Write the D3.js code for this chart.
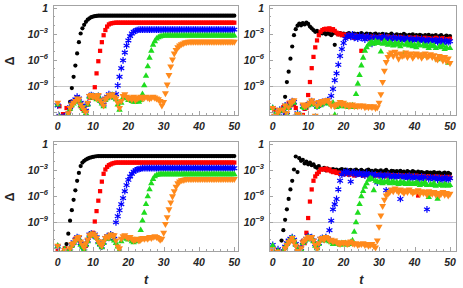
<!DOCTYPE html>
<html>
<head>
<meta charset="utf-8">
<script src="https://cdn.jsdelivr.net/npm/d3@7"></script>
<style>
  body { margin: 0; background: #fff; }
  text { font-family: "Liberation Sans", Arial, sans-serif; font-weight: bold; font-style: italic; fill: #262626; }
</style>
</head>
<body>
<svg id="chart" width="463" height="288"></svg>
<script>
// sample times
var tGrid = [0,0.5,1,1.5,2,2.5,3,3.5,4,4.5,5,5.5,6,6.5,7,7.5,8,8.5,9,9.5,
  10,10.5,11,11.5,12,12.5,13,13.5,14,14.5,15,15.5,16,16.5,17,17.5,18,18.5,19,19.5,
  20,20.5,21,21.5,22,22.5,23,23.5,24,24.5,25,25.5,26,26.5,27,27.5,28,28.5,29,29.5,
  30,30.5,31,31.5,32,32.5,33,33.5,34,34.5,35,35.5,36,36.5,37,37.5,38,38.5,39,39.5,
  40,40.5,41,41.5,42,42.5,43,43.5,44,44.5,45,45.5,46,46.5,47,47.5,48,48.5,49,49.5,50];

// log10(Delta) values, one array per panel & series
// ---- top left
var tlBlack = [-12.8,-13,-12.6,-13,-12.9,-12.7,-12.2,-10.9,-9.3,-8.0,
  -6.7,-5.3,-4.0,-3.0,-2.4,-2.0,-1.65,-1.4,-1.25,-1.12,
  -1.05,-1.0,-0.97,-0.95,-0.95,-0.95,-0.95,-0.95,-0.95,-0.95,
  -0.95,-0.95,-0.95,-0.95,-0.95,-0.95,-0.95,-0.95,-0.95,-0.95,
  -0.95,-0.95,-0.95,-0.95,-0.95,-0.95,-0.95,-0.95,-0.95,-0.95,
  -0.95,-0.95,-0.95,-0.95,-0.95,-0.95,-0.95,-0.95,-0.95,-0.95,
  -0.95,-0.95,-0.95,-0.95,-0.95,-0.95,-0.95,-0.95,-0.95,-0.95,
  -0.95,-0.95,-0.95,-0.95,-0.95,-0.95,-0.95,-0.95,-0.95,-0.95,
  -0.95,-0.95,-0.95,-0.95,-0.95,-0.95,-0.95,-0.95,-0.95,-0.95,
  -0.95,-0.95,-0.95,-0.95,-0.95,-0.95,-0.95,-0.95,-0.95,-0.95,-0.95];
var tlRed = [-12.9,-11.4,-13,-12.3,-12.8,-11.6,-12.4,-11.7,-11.3,-10.9,
  -10.7,-10.4,-10.8,-11.4,-11.7,-11.9,-12.1,-11.2,-10.4,-10.3,
  -10.4,-9.2,-7.6,-6.2,-5.0,-4.0,-3.2,-2.6,-2.2,-1.95,
  -1.85,-1.8,-1.77,-1.75,-1.75,-1.75,-1.75,-1.75,-1.75,-1.75,
  -1.75,-1.75,-1.75,-1.75,-1.75,-1.75,-1.75,-1.75,-1.75,-1.75,
  -1.75,-1.75,-1.75,-1.75,-1.75,-1.75,-1.75,-1.75,-1.75,-1.75,
  -1.75,-1.75,-1.75,-1.75,-1.75,-1.75,-1.75,-1.75,-1.75,-1.75,
  -1.75,-1.75,-1.75,-1.75,-1.75,-1.75,-1.75,-1.75,-1.75,-1.75,
  -1.75,-1.75,-1.75,-1.75,-1.75,-1.75,-1.75,-1.75,-1.75,-1.75,
  -1.75,-1.75,-1.75,-1.75,-1.75,-1.75,-1.75,-1.75,-1.75,-1.75,-1.75];
var tlBlue = [-11.3,-12.5,-13,-12.7,-12.9,-12.4,-12.3,-11.5,-11.0,-10.8,
  -10.6,-10.3,-10.5,-11.0,-11.3,-11.6,-11.9,-11.1,-10.2,-10.1,
  -10.2,-10.3,-10.4,-10.2,-10.6,-10.9,-11.2,-10.5,-10.3,-10.0,
  -10.1,-10.2,-10.4,-10.0,-9.0,-8.0,-7.0,-6.1,-5.2,-4.4,
  -3.8,-3.3,-3.0,-2.8,-2.7,-2.62,-2.55,-2.55,-2.55,-2.55,
  -2.55,-2.55,-2.55,-2.55,-2.55,-2.55,-2.55,-2.55,-2.55,-2.55,
  -2.55,-2.55,-2.55,-2.55,-2.55,-2.55,-2.55,-2.55,-2.55,-2.55,
  -2.55,-2.55,-2.55,-2.55,-2.55,-2.55,-2.55,-2.55,-2.55,-2.55,
  -2.55,-2.55,-2.55,-2.55,-2.55,-2.55,-2.55,-2.55,-2.55,-2.55,
  -2.55,-2.55,-2.55,-2.55,-2.55,-2.55,-2.55,-2.55,-2.55,-2.55,-2.55];
var tlGreen = [-11.2,-12.6,-13,-12.9,-13,-12.6,-12.3,-11.7,-11.3,-11.1,
  -10.9,-10.6,-10.7,-11.3,-11.6,-11.9,-12.2,-11.2,-10.3,-10.2,
  -10.4,-10.3,-10.6,-10.2,-10.8,-11.1,-11.4,-10.7,-10.5,-10.2,
  -10.3,-10.1,-10.4,-10.6,-11.2,-11.8,-11.0,-10.4,-10.3,-10.5,
  -10.7,-10.6,-10.8,-10.9,-10.9,-10.8,-10.9,-10.7,-10.0,-9.0,
  -7.9,-6.8,-5.8,-5.0,-4.3,-3.9,-3.6,-3.45,-3.35,-3.3,
  -3.25,-3.25,-3.25,-3.25,-3.25,-3.25,-3.25,-3.25,-3.25,-3.25,
  -3.25,-3.25,-3.25,-3.25,-3.25,-3.25,-3.25,-3.25,-3.25,-3.25,
  -3.25,-3.25,-3.25,-3.25,-3.25,-3.25,-3.25,-3.25,-3.25,-3.25,
  -3.25,-3.25,-3.25,-3.25,-3.25,-3.25,-3.25,-3.25,-3.25,-3.25,-3.25];
var tlOrange = [-11.0,-12.6,-13,-13,-12.8,-13,-12.2,-11.6,-11.2,-11.0,
  -10.8,-10.5,-10.6,-11.2,-11.5,-11.8,-12.1,-11.0,-10.2,-10.1,
  -10.3,-10.2,-10.5,-10.1,-10.7,-11.0,-11.3,-10.6,-10.4,-10.1,
  -10.2,-10.0,-10.3,-10.5,-11.0,-11.6,-10.8,-10.2,-10.0,-10.3,
  -10.5,-10.4,-10.6,-10.3,-10.7,-10.5,-10.4,-10.3,-10.5,-10.4,
  -10.3,-10.4,-10.5,-10.4,-10.3,-10.4,-10.5,-10.6,-10.8,-11.3,
  -10.9,-9.9,-8.9,-7.8,-6.8,-6.0,-5.3,-4.9,-4.6,-4.4,
  -4.25,-4.15,-4.05,-4.0,-3.95,-3.95,-3.95,-3.95,-3.95,-3.95,
  -3.95,-3.95,-3.95,-3.95,-3.95,-3.95,-3.95,-3.95,-3.95,-3.95,
  -3.95,-3.95,-3.95,-3.95,-3.95,-3.95,-3.95,-3.95,-3.95,-3.95,-3.95];

// ---- top right
var trBlack = [-12.6,-13,-12.8,-13,-12.5,-12.9,-11.6,-10.3,-8.6,-7.4,
  -5.9,-4.5,-3.2,-2.5,-2.1,-1.85,-2.05,-1.8,-1.95,-1.75,
  -1.9,-2.2,-2.4,-2.6,-2.8,-2.7,-2.9,-2.85,-3.0,-2.9,
  -3.1,-2.95,-3.05,-3.2,-3.0,-4.3,-3.0,-3.1,-2.95,-3.15,
  -3.0,-3.2,-3.05,-2.95,-3.1,-3.25,-3.0,-3.15,-3.05,-3.2,
  -2.95,-3.1,-3.2,-3.0,-3.15,-3.05,-3.25,-3.1,-3.0,-3.2,
  -3.1,-3.3,-3.05,-3.2,-3.1,-3.25,-3.15,-3.0,-3.2,-3.3,
  -3.1,-3.25,-3.15,-3.3,-3.05,-3.2,-3.35,-3.15,-3.25,-3.1,
  -3.3,-3.2,-3.4,-3.15,-3.25,-3.35,-3.2,-3.3,-3.15,-3.4,
  -3.25,-3.35,-3.2,-3.45,-3.3,-3.2,-3.4,-3.35,-3.25,-3.4,-3.3];
var trRed = [-12.9,-11.8,-13,-12.4,-11.9,-12.7,-11.5,-12.2,-11.4,-11.0,
  -11.3,-10.9,-11.2,-11.6,-12.8,-12.5,-13,-12.4,-11.7,-11.6,
  -10.1,-8.6,-7.0,-5.7,-4.6,-3.8,-3.2,-2.8,-2.6,-2.5,
  -2.45,-2.55,-2.4,-2.6,-2.5,-2.7,-2.9,-3.1,-3.0,-3.2,
  -3.1,-3.3,-3.15,-3.4,-3.2,-3.35,-3.5,-3.25,-3.4,-3.3,
  -5.0,-3.35,-3.5,-3.3,-3.45,-3.6,-3.35,-3.5,-3.4,-3.55,
  -3.45,-3.3,-3.6,-3.4,-3.5,-3.35,-3.65,-3.45,-3.55,-3.4,
  -3.6,-3.5,-3.4,-3.65,-3.5,-3.55,-3.7,-3.45,-3.6,-3.5,
  -3.65,-3.45,-3.7,-3.55,-3.6,-3.75,-3.5,-3.65,-3.55,-3.7,
  -3.6,-3.75,-3.5,-3.7,-3.6,-3.8,-3.55,-3.7,-3.65,-3.8,-3.6];
var trBlue = [-11.6,-12.6,-13,-12.2,-11.8,-12.9,-12.0,-11.3,-12.4,-11.5,
  -11.1,-10.8,-10.9,-12.6,-12.2,-13,-12.6,-11.4,-11.5,-11.3,
  -11.2,-11.0,-10.8,-11.1,-12.7,-11.4,-11.0,-11.2,-10.9,-11.0,
  -10.8,-10.7,-11.0,-10.2,-9.4,-8.4,-7.6,-6.6,-5.6,-4.8,
  -4.1,-3.6,-3.3,-3.2,-3.4,-3.1,-3.5,-3.3,-3.6,-3.25,
  -3.5,-3.3,-3.7,-3.4,-3.3,-3.6,-4.2,-3.4,-3.5,-3.7,
  -3.4,-3.6,-3.5,-3.3,-3.7,-3.5,-3.6,-3.9,-3.4,-3.6,
  -3.7,-3.5,-3.6,-3.8,-3.5,-3.7,-3.6,-3.9,-3.6,-3.7,
  -3.8,-3.6,-3.7,-3.9,-3.6,-3.8,-4.0,-3.7,-3.8,-3.9,
  -3.7,-3.9,-3.8,-4.0,-3.7,-3.9,-4.1,-3.8,-3.9,-4.0,-3.9];
var trGreen = [-11.6,-12.4,-13,-12.3,-11.9,-12.8,-11.9,-11.4,-12.3,-11.6,
  -11.2,-10.9,-11.0,-12.5,-12.3,-13,-12.5,-11.5,-11.6,-11.4,
  -11.3,-11.1,-10.9,-11.2,-12.6,-11.5,-11.1,-11.3,-11.0,-11.1,
  -10.9,-10.8,-11.1,-11.2,-11.0,-12.4,-11.5,-11.3,-11.2,-11.4,
  -11.2,-11.4,-11.3,-11.5,-11.4,-11.3,-11.5,-10.0,-8.8,-7.8,
  -6.7,-5.8,-5.0,-4.6,-4.3,-4.1,-4.0,-4.2,-3.9,-4.1,
  -4.0,-5.1,-4.2,-3.9,-4.1,-4.3,-4.0,-4.2,-4.4,-4.1,
  -4.3,-4.1,-4.5,-4.2,-5.3,-4.3,-4.1,-4.4,-4.2,-4.5,
  -4.3,-4.6,-4.2,-4.4,-5.6,-4.3,-4.5,-4.4,-4.7,-4.3,
  -4.5,-4.4,-4.7,-6.0,-4.5,-4.6,-4.4,-4.8,-4.6,-6.4,-4.7];
var trOrange = [-11.6,-12.5,-13,-12.1,-11.8,-13,-11.8,-11.3,-12.2,-11.5,
  -11.0,-10.9,-10.7,-12.6,-12.3,-13,-12.5,-11.2,-11.4,-11.3,
  -11.2,-11.0,-10.7,-11.0,-12.5,-11.3,-10.9,-11.1,-10.8,-10.9,
  -10.7,-10.7,-11.0,-11.3,-12.6,-11.4,-11.2,-11.1,-10.9,-11.2,
  -11.0,-11.3,-11.2,-11.4,-11.3,-11.2,-11.4,-11.3,-11.4,-11.3,
  -11.4,-11.3,-11.5,-11.4,-11.5,-11.4,-11.5,-11.4,-11.6,-11.5,
  -11.0,-10.0,-8.6,-7.3,-6.3,-5.7,-5.4,-5.2,-5.6,-5.1,
  -5.4,-5.9,-5.3,-5.6,-5.5,-5.2,-5.7,-5.4,-5.3,-5.8,
  -5.5,-5.3,-5.6,-5.4,-5.8,-5.5,-5.3,-5.7,-5.6,-5.4,
  -5.7,-5.5,-5.9,-6.0,-5.6,-5.8,-6.1,-5.7,-6.2,-5.9,-6.4];

// ---- bottom left
var blBlack = [-13,-12.8,-13,-12.7,-12.9,-11.6,-10.4,-8.9,-7.7,-6.5,
  -5.4,-4.3,-3.4,-2.6,-2.2,-2.0,-1.85,-1.75,-1.65,-1.6,
  -1.55,-1.5,-1.47,-1.45,-1.45,-1.45,-1.45,-1.45,-1.45,-1.45,
  -1.45,-1.45,-1.45,-1.45,-1.45,-1.45,-1.45,-1.45,-1.45,-1.45,
  -1.45,-1.45,-1.45,-1.45,-1.45,-1.45,-1.45,-1.45,-1.45,-1.45,
  -1.45,-1.45,-1.45,-1.45,-1.45,-1.45,-1.45,-1.45,-1.45,-1.45,
  -1.45,-1.45,-1.45,-1.45,-1.45,-1.45,-1.45,-1.45,-1.45,-1.45,
  -1.45,-1.45,-1.45,-1.45,-1.45,-1.45,-1.45,-1.45,-1.45,-1.45,
  -1.45,-1.45,-1.45,-1.45,-1.45,-1.45,-1.45,-1.45,-1.45,-1.45,
  -1.45,-1.45,-1.45,-1.45,-1.45,-1.45,-1.45,-1.45,-1.45,-1.45,-1.45];
var blRed = [-12.2,-12.9,-13,-12.6,-12.1,-12.8,-13,-12.3,-11.8,-11.5,
  -11.0,-10.9,-11.1,-11.6,-11.9,-12.2,-11.8,-11.1,-10.6,-10.5,
  -10.3,-9.0,-7.8,-6.6,-5.5,-4.4,-3.5,-3.0,-2.7,-2.5,
  -2.4,-2.3,-2.25,-2.2,-2.2,-2.2,-2.2,-2.2,-2.2,-2.2,
  -2.2,-2.2,-2.2,-2.2,-2.2,-2.2,-2.2,-2.2,-2.2,-2.2,
  -2.2,-2.2,-2.2,-2.2,-2.2,-2.2,-2.2,-2.2,-2.2,-2.2,
  -2.2,-2.2,-2.2,-2.2,-2.2,-2.2,-2.2,-2.2,-2.2,-2.2,
  -2.2,-2.2,-2.2,-2.2,-2.2,-2.2,-2.2,-2.2,-2.2,-2.2,
  -2.2,-2.2,-2.2,-2.2,-2.2,-2.2,-2.2,-2.2,-2.2,-2.2,
  -2.2,-2.2,-2.2,-2.2,-2.2,-2.2,-2.2,-2.2,-2.2,-2.2,-2.2];
var blBlue = [-11.9,-12.8,-13,-12.7,-12.3,-12.9,-13,-12.4,-11.7,-11.4,
  -11.1,-10.8,-10.9,-11.5,-11.8,-12.1,-11.6,-11.2,-10.5,-10.4,
  -10.6,-10.5,-10.8,-11.3,-11.6,-11.9,-11.4,-10.9,-10.7,-10.9,
  -10.5,-10.6,-11.0,-9.1,-8.4,-7.7,-7.0,-6.3,-5.5,-4.8,
  -4.2,-3.8,-3.5,-3.25,-3.1,-3.0,-2.95,-2.9,-2.85,-2.85,
  -2.85,-2.85,-2.85,-2.85,-2.85,-2.85,-2.85,-2.85,-2.85,-2.85,
  -2.85,-2.85,-2.85,-2.85,-2.85,-2.85,-2.85,-2.85,-2.85,-2.85,
  -2.85,-2.85,-2.85,-2.85,-2.85,-2.85,-2.85,-2.85,-2.85,-2.85,
  -2.85,-2.85,-2.85,-2.85,-2.85,-2.85,-2.85,-2.85,-2.85,-2.85,
  -2.85,-2.85,-2.85,-2.85,-2.85,-2.85,-2.85,-2.85,-2.85,-2.85,-2.85];
var blGreen = [-11.8,-12.7,-13,-12.8,-12.2,-13,-12.9,-12.2,-11.8,-11.5,
  -11.2,-10.9,-11.0,-11.7,-12.0,-12.2,-11.7,-11.3,-10.6,-10.5,
  -10.7,-10.6,-10.9,-11.4,-11.7,-12.0,-11.5,-11.0,-10.8,-11.0,
  -10.6,-10.7,-11.2,-11.5,-11.9,-12.3,-11.3,-10.8,-10.9,-11.0,
  -11.1,-11.0,-11.3,-11.4,-11.2,-11.3,-11.1,-10.0,-8.9,-8.0,
  -7.0,-6.1,-5.3,-4.6,-4.1,-3.8,-3.65,-3.6,-3.55,-3.55,
  -3.55,-3.55,-3.55,-3.55,-3.55,-3.55,-3.55,-3.55,-3.55,-3.55,
  -3.55,-3.55,-3.55,-3.55,-3.55,-3.55,-3.55,-3.55,-3.55,-3.55,
  -3.55,-3.55,-3.55,-3.55,-3.55,-3.55,-3.55,-3.55,-3.55,-3.55,
  -3.55,-3.55,-3.55,-3.55,-3.55,-3.55,-3.55,-3.55,-3.55,-3.55,-3.55];
var blOrange = [-11.8,-12.6,-13,-12.8,-12.3,-13,-12.7,-12.1,-11.6,-11.5,
  -11.2,-10.9,-10.8,-11.3,-11.7,-12.0,-11.5,-11.1,-10.6,-10.5,
  -10.4,-10.6,-10.9,-11.3,-11.6,-11.8,-11.3,-10.9,-10.7,-10.8,
  -10.5,-10.6,-10.6,-11.2,-11.9,-12.1,-11.0,-10.7,-10.6,-10.8,
  -10.9,-10.8,-11.0,-11.2,-11.1,-11.0,-11.2,-11.1,-10.9,-11.0,
  -10.9,-11.0,-10.8,-10.9,-10.8,-10.7,-10.8,-10.9,-11.1,-11.0,
  -10.3,-9.3,-8.5,-7.6,-6.8,-6.1,-5.5,-5.0,-4.6,-4.4,
  -4.25,-4.2,-4.15,-4.1,-4.1,-4.1,-4.1,-4.1,-4.1,-4.1,
  -4.1,-4.1,-4.1,-4.1,-4.1,-4.1,-4.1,-4.1,-4.1,-4.1,
  -4.1,-4.1,-4.1,-4.1,-4.1,-4.1,-4.1,-4.1,-4.1,-4.1,-4.1];

// ---- bottom right
var brBlack = [-13,-12.9,-13,-12.7,-12.5,-11.2,-10.0,-8.8,-7.6,-6.4,
  -5.3,-4.3,-3.0,-1.5,-3.3,-1.7,-2.0,-1.9,-2.3,-2.1,
  -2.4,-2.2,-2.5,-2.4,-2.7,-2.8,-2.6,-2.9,-3.0,-2.8,
  -3.1,-2.9,-3.05,-3.2,-2.95,-3.1,-3.0,-3.2,-3.05,-2.95,
  -3.15,-3.0,-3.2,-3.1,-3.05,-3.25,-3.1,-3.0,-3.2,-3.15,
  -3.05,-3.2,-3.3,-3.1,-3.0,-3.2,-3.15,-3.3,-3.1,-3.2,
  -3.25,-3.1,-3.3,-3.2,-3.05,-3.25,-3.35,-3.15,-3.2,-3.3,
  -3.2,-3.35,-3.15,-3.3,-3.25,-3.4,-3.2,-3.3,-3.35,-3.2,
  -3.3,-3.45,-3.25,-3.35,-3.3,-3.4,-3.5,-3.3,-3.4,-3.35,
  -3.45,-3.3,-3.5,-3.4,-3.35,-3.5,-3.45,-3.35,-3.55,-3.4,-3.5];
var brRed = [-12.4,-13,-12.9,-12.3,-12.8,-13,-12.5,-12.0,-11.6,-11.4,
  -11.2,-11.0,-11.3,-11.7,-12.2,-12.6,-12.0,-11.3,-11.5,-10.3,
  -8.6,-6.7,-5.3,-4.3,-3.8,-3.5,-3.3,-3.0,-2.95,-3.0,
  -2.9,-3.1,-3.0,-3.2,-3.3,-3.2,-3.4,-3.35,-3.5,-3.4,
  -3.55,-3.4,-3.5,-3.6,-3.45,-3.55,-3.7,-3.5,-3.6,-3.45,
  -3.6,-3.7,-3.5,-3.65,-3.55,-3.7,-3.6,-3.75,-3.55,-3.65,
  -3.7,-3.6,-3.75,-3.65,-3.8,-3.6,-3.7,-3.8,-3.65,-3.75,
  -3.8,-3.65,-3.75,-3.85,-3.7,-3.8,-3.9,-3.7,-3.8,-3.75,
  -3.85,-3.7,-6.0,-3.8,-3.9,-3.75,-3.85,-3.95,-3.8,-3.9,
  -3.85,-3.95,-3.8,-3.9,-4.0,-3.85,-3.95,-3.9,-4.0,-3.85,-3.95];
var brBlue = [-11.7,-12.6,-13,-12.2,-12.7,-12.9,-12.4,-11.9,-11.5,-11.2,
  -11.0,-10.8,-11.1,-11.6,-12.1,-12.5,-12.1,-11.4,-11.2,-11.0,
  -10.7,-10.9,-10.8,-11.2,-11.6,-12.0,-11.5,-11.0,-10.9,-11.1,
  -10.8,-11.0,-10.0,-8.9,-7.6,-7.0,-6.4,-5.3,-4.3,-3.6,
  -3.3,-3.4,-3.2,-3.5,-4.4,-3.4,-3.3,-3.6,-3.5,-3.4,
  -3.6,-3.5,-3.7,-3.4,-3.6,-3.8,-3.5,-3.7,-3.6,-4.5,
  -3.7,-3.6,-3.8,-3.7,-5.4,-3.6,-3.8,-3.9,-3.7,-3.8,
  -3.9,-3.7,-6.4,-3.8,-3.9,-3.8,-4.0,-3.7,-3.9,-4.0,
  -3.8,-4.0,-3.9,-4.1,-3.8,-4.0,-3.9,-7.6,-4.1,-3.9,
  -4.0,-4.1,-3.9,-4.2,-4.0,-4.1,-4.2,-3.9,-4.1,-4.2,-4.0];
var brGreen = [-11.8,-12.7,-13,-12.4,-12.8,-13,-12.5,-12.0,-11.6,-11.3,
  -11.1,-10.9,-11.2,-11.7,-12.3,-12.6,-12.2,-11.5,-11.3,-11.1,
  -10.8,-11.0,-10.9,-11.3,-11.8,-12.1,-11.6,-11.1,-11.0,-11.2,
  -10.9,-11.1,-11.3,-11.4,-11.6,-11.5,-11.4,-11.6,-11.7,-11.5,
  -11.6,-11.5,-11.7,-11.6,-11.4,-11.2,-10.2,-9.1,-8.0,-7.0,
  -6.1,-5.5,-5.0,-4.6,-4.2,-4.0,-4.1,-5.4,-4.3,-4.4,
  -4.5,-4.3,-4.6,-4.4,-4.5,-4.3,-4.6,-4.5,-4.4,-4.6,
  -4.5,-4.7,-4.4,-4.6,-4.5,-4.7,-4.6,-4.5,-4.7,-4.6,
  -4.7,-4.5,-4.6,-4.8,-4.6,-4.7,-4.5,-4.8,-6.2,-4.7,
  -4.8,-4.6,-4.9,-6.4,-4.7,-4.8,-4.9,-4.7,-4.8,-4.9,-4.8];
var brOrange = [-12.2,-12.8,-13,-12.5,-12.9,-13,-12.6,-12.1,-11.7,-11.4,
  -11.2,-10.9,-11.3,-11.8,-12.4,-12.7,-12.1,-11.4,-11.2,-11.0,
  -10.8,-10.9,-10.8,-11.2,-11.7,-12.2,-11.5,-11.0,-10.9,-11.1,
  -10.8,-10.9,-11.2,-11.1,-11.3,-11.2,-11.4,-11.5,-11.6,-11.4,
  -11.5,-11.4,-11.6,-11.5,-11.3,-11.5,-11.6,-11.5,-11.7,-11.6,
  -11.6,-11.5,-11.7,-11.6,-11.8,-11.7,-11.6,-11.8,-12.0,-11.2,
  -9.6,-8.3,-7.2,-6.5,-6.0,-5.8,-5.6,-5.3,-5.5,-5.2,
  -5.4,-5.6,-5.3,-5.5,-5.7,-5.4,-5.6,-5.3,-5.5,-5.7,
  -5.5,-5.6,-5.4,-5.8,-5.5,-5.7,-5.6,-5.9,-5.5,-5.7,
  -5.8,-5.6,-5.9,-5.7,-6.0,-5.8,-5.6,-5.9,-5.7,-6.0,-5.8];

var xTicks = [0, 10, 20, 30, 40, 50];
var yTicks = [0, -3, -6, -9];   // exponents shown on the left

// marker style per series: black circle, red square, blue asterisk, green triangle, orange down triangle
var markers = [
  {color: '#000000', type: d3.symbolCircle,   size: 14},
  {color: '#ff0000', type: d3.symbolSquare,   size: 18},
  {color: '#0000ff', type: d3.symbolAsterisk, size: 32, stroke: true},
  {color: '#1edc1e', type: d3.symbolTriangle, size: 18},
  {color: '#ff8a1c', type: d3.symbolTriangle, size: 21, flip: true}
];

var panels = [
  {id: 'tl', fx: [53, 238],  fy: [5, 115],   xr: [57.7, 234.3], yr: [85.5, 7.5],
   series: [tlBlack, tlRed, tlBlue, tlGreen, tlOrange], delta: true,  tLabel: false},
  {id: 'tr', fx: [269, 456], fy: [5, 115],   xr: [272.7, 450],  yr: [85.5, 7.5],
   series: [trBlack, trRed, trBlue, trGreen, trOrange], delta: false, tLabel: false},
  {id: 'bl', fx: [53, 238],  fy: [141, 251], xr: [57.7, 234.3], yr: [221.5, 143.5],
   series: [blBlack, blRed, blBlue, blGreen, blOrange], delta: true,  tLabel: true},
  {id: 'br', fx: [269, 456], fy: [141, 251], xr: [272.7, 450],  yr: [221.5, 143.5],
   series: [brBlack, brRed, brBlue, brGreen, brOrange], delta: false, tLabel: true}
];

var svg = d3.select('#chart');
var defs = svg.append('defs');

panels.forEach(function(p) {
  var x = d3.scaleLinear().domain([0, 50]).range(p.xr);
  var y = d3.scaleLog().domain([1e-9, 1]).range(p.yr);
  var g = svg.append('g').attr('class', 'panel');

  defs.append('clipPath').attr('id', 'clip-' + p.id)
    .append('rect')
    .attr('x', p.fx[0]).attr('y', p.fy[0])
    .attr('width', p.fx[1] - p.fx[0]).attr('height', p.fy[1] - p.fy[0]);

  // light reference line at 10^-9
  g.append('line')
    .attr('x1', p.fx[0]).attr('x2', p.fx[1])
    .attr('y1', Math.round(y(1e-9)) + 0.5).attr('y2', Math.round(y(1e-9)) + 0.5)
    .attr('stroke', '#cacaca').attr('stroke-width', 1);

  var plot = g.append('g').attr('clip-path', 'url(#clip-' + p.id + ')');

  p.series.forEach(function(vals, k) {
    var m = markers[k];
    var pts = tGrid.map(function(t, i) { return [t, vals[i]]; })
      .filter(function(d) { return d[1] != null; });
    plot.append('g').selectAll('path')
      .data(pts)
      .join('path')
      .attr('transform', function(d) {
        return 'translate(' + x(d[0]) + ',' + y(Math.pow(10, d[1])) + ')' + (m.flip ? ' rotate(180)' : '');
      })
      .attr('d', d3.symbol().type(m.type).size(m.size))
      .attr('fill', m.stroke ? 'none' : m.color)
      .attr('stroke', m.stroke ? m.color : 'none')
      .attr('stroke-width', m.stroke ? 1.2 : 0);
  });

  // frame
  g.append('rect')
    .attr('x', p.fx[0] + 0.5).attr('y', p.fy[0] + 0.5)
    .attr('width', p.fx[1] - p.fx[0]).attr('height', p.fy[1] - p.fy[0])
    .attr('fill', 'none').attr('stroke', '#a3a3a3').attr('stroke-width', 1);

  // x ticks (inward) and labels
  d3.range(0, 51, 2).forEach(function(v) {
    var major = v % 10 === 0;
    var xx = Math.round(x(v)) + 0.5;
    g.append('line')
      .attr('x1', xx).attr('x2', xx)
      .attr('y1', p.fy[1]).attr('y2', p.fy[1] - (major ? 4 : 2))
      .attr('stroke', '#a3a3a3');
  });
  g.selectAll('.xl').data(xTicks).join('text')
    .attr('x', function(d) { return x(d); })
    .attr('y', p.fy[1] + 15)
    .attr('text-anchor', 'middle')
    .attr('font-size', 10.5)
    .text(function(d) { return d; });

  // y ticks (inward): majors every 3 decades, minors each decade
  d3.range(-12, 1).forEach(function(e) {
    var yy = Math.round(y(Math.pow(10, e))) + 0.5;
    if (yy < p.fy[0] || yy > p.fy[1]) return;
    var major = e % 3 === 0;
    g.append('line')
      .attr('x1', p.fx[0]).attr('x2', p.fx[0] + (major ? 4 : 2))
      .attr('y1', yy).attr('y2', yy)
      .attr('stroke', '#a3a3a3');
  });
  yTicks.forEach(function(e) {
    var txt = g.append('text')
      .attr('x', p.fx[0] - 5)
      .attr('y', y(Math.pow(10, e)) + 4)
      .attr('text-anchor', 'end')
      .attr('font-size', 10.5);
    if (e === 0) {
      txt.text('1');
    } else {
      txt.append('tspan').text('10');
      txt.append('tspan').attr('dy', -4.5).attr('font-size', 7.5).text('\u2212' + (-e));
    }
  });

  if (p.delta) {
    var cy = (p.fy[0] + p.fy[1]) / 2 + 1;
    g.append('text')
      .attr('transform', 'translate(14,' + cy + ') rotate(-90)')
      .attr('text-anchor', 'middle')
      .attr('font-size', 12)
      .style('font-style', 'normal')
      .text('\u0394');
  }
  if (p.tLabel) {
    g.append('text')
      .attr('x', (p.xr[0] + p.xr[1]) / 2)
      .attr('y', 284)
      .attr('text-anchor', 'middle')
      .attr('font-size', 12.5)
      .text('t');
  }
});
</script>
</body>
</html>
